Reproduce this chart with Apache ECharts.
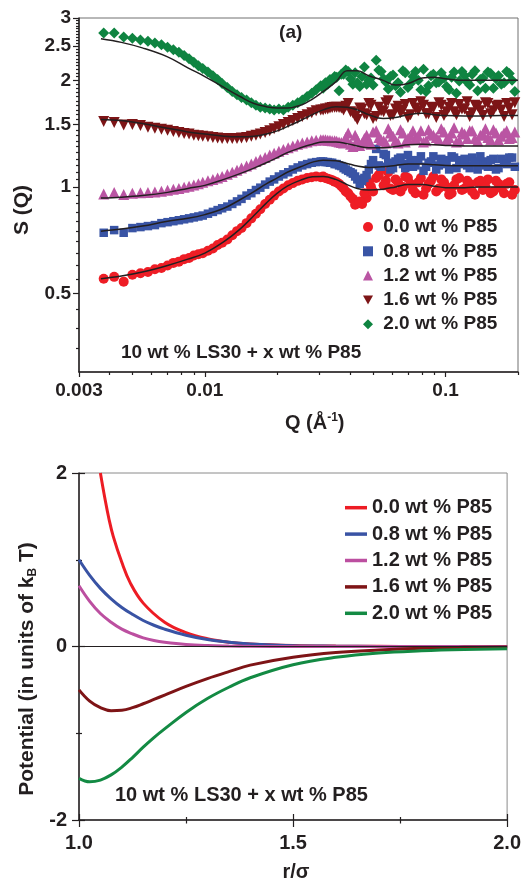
<!DOCTYPE html>
<html>
<head>
<meta charset="utf-8">
<script src="https://cdn.jsdelivr.net/npm/echarts@6/dist/echarts.min.js"></script>
<style>
	html, body { margin: 0; padding: 0; background: #fff; }
	#chart { width: 524px; height: 882px; }
</style>
</head>
<body>
<div id="chart"></div>
<script>
// --- top panel: S(Q) data, Q in 1/A ---
var qData = [0.0038, 0.0042, 0.0046, 0.005, 0.0054, 0.0058, 0.0062, 0.0066, 0.007, 0.0074,
	0.0078, 0.0082, 0.0086, 0.009, 0.0094, 0.0098, 0.0103, 0.0108, 0.0113, 0.0118,
	0.0124, 0.013, 0.0136, 0.0142, 0.0149, 0.0156, 0.0163, 0.017, 0.0178, 0.0186,
	0.0194, 0.0203, 0.0212, 0.0222, 0.0232, 0.0243, 0.0254, 0.0266, 0.0278, 0.029,
	0.0303, 0.0317, 0.0331, 0.0346, 0.0361, 0.0377, 0.0394, 0.0412, 0.043, 0.045,
	0.047, 0.049, 0.0515, 0.054, 0.0565, 0.059, 0.062, 0.065, 0.068, 0.0715,
	0.075, 0.079, 0.083, 0.087, 0.0915, 0.096, 0.101, 0.106, 0.111, 0.117,
	0.123, 0.129, 0.136, 0.143, 0.15, 0.158, 0.166, 0.175, 0.184, 0.194];

var s00 = [0.55, 0.557, 0.54, 0.565, 0.57, 0.575, 0.585, 0.59, 0.60, 0.61,
	0.615, 0.625, 0.63, 0.64, 0.645, 0.65, 0.66, 0.67, 0.685, 0.695,
	0.71, 0.73, 0.75, 0.765, 0.79, 0.815, 0.84, 0.865, 0.895, 0.92,
	0.945, 0.97, 0.99, 1.01, 1.025, 1.04, 1.05, 1.06, 1.065, 1.07,
	1.065, 1.06, 1.05, 1.035, 1.02, 0.99, 0.96, 0.925, 0.90, 0.895,
	0.93, 1.0, 1.06, 1.12, 1.04, 0.99, 1.05, 0.97, 1.07, 1.02,
	0.96, 1.06, 0.99, 1.04, 0.97, 1.05, 1.0, 0.96, 1.05, 0.98,
	1.04, 0.97, 1.03, 0.98, 1.05, 0.97, 1.02, 0.96, 1.03, 0.98];
var s08 = [0.742, 0.755, 0.742, 0.765, 0.77, 0.775, 0.78, 0.79, 0.795, 0.80,
	0.805, 0.81, 0.815, 0.82, 0.825, 0.83, 0.84, 0.85, 0.86, 0.87,
	0.88, 0.895, 0.91, 0.925, 0.945, 0.96, 0.98, 0.995, 1.015, 1.035,
	1.05, 1.07, 1.085, 1.10, 1.12, 1.135, 1.15, 1.16, 1.17, 1.175,
	1.18, 1.175, 1.17, 1.16, 1.15, 1.13, 1.11, 1.09, 1.05, 1.04,
	1.08, 1.16, 1.28, 1.14, 1.23, 1.12, 1.18, 1.21, 1.13, 1.19,
	1.15, 1.22, 1.14, 1.18, 1.12, 1.20, 1.16, 1.22, 1.13, 1.19,
	1.15, 1.21, 1.12, 1.18, 1.14, 1.20, 1.13, 1.17, 1.21, 1.14];
var s12 = [0.955, 0.965, 0.952, 0.96, 0.962, 0.965, 0.968, 0.972, 0.978, 0.985,
	0.99, 0.997, 1.005, 1.012, 1.02, 1.03, 1.04, 1.05, 1.06, 1.07,
	1.085, 1.10, 1.115, 1.13, 1.145, 1.16, 1.18, 1.195, 1.21, 1.23,
	1.245, 1.26, 1.275, 1.29, 1.305, 1.32, 1.33, 1.34, 1.35, 1.355,
	1.36, 1.36, 1.355, 1.35, 1.34, 1.33, 1.42, 1.30, 1.36, 1.33,
	1.40, 1.32, 1.44, 1.36, 1.33, 1.42, 1.35, 1.45, 1.34, 1.40,
	1.37, 1.44, 1.35, 1.41, 1.38, 1.46, 1.36, 1.42, 1.34, 1.43,
	1.37, 1.44, 1.35, 1.41, 1.38, 1.45, 1.36, 1.42, 1.37, 1.43];
var s16 = [1.53, 1.52, 1.495, 1.50, 1.49, 1.475, 1.465, 1.455, 1.445, 1.435,
	1.425, 1.415, 1.41, 1.40, 1.395, 1.39, 1.385, 1.38, 1.375, 1.37,
	1.37, 1.37, 1.37, 1.375, 1.38, 1.39, 1.40, 1.41, 1.425, 1.44,
	1.46, 1.48, 1.50, 1.52, 1.54, 1.56, 1.58, 1.60, 1.62, 1.64,
	1.65, 1.66, 1.67, 1.68, 1.675, 1.65, 1.72, 1.62, 1.55, 1.66,
	1.60, 1.70, 1.58, 1.64, 1.73, 1.59, 1.66, 1.62, 1.71, 1.60,
	1.67, 1.74, 1.61, 1.68, 1.57, 1.70, 1.63, 1.72, 1.60, 1.66,
	1.74, 1.62, 1.69, 1.59, 1.72, 1.64, 1.70, 1.58, 1.67, 1.73];
var s20 = [2.72, 2.72, 2.65, 2.63, 2.60, 2.58, 2.55, 2.52, 2.48, 2.44,
	2.40, 2.35, 2.30, 2.25, 2.20, 2.16, 2.11, 2.06, 2.01, 1.96,
	1.91, 1.86, 1.82, 1.79, 1.76, 1.73, 1.70, 1.68, 1.67, 1.66,
	1.65, 1.66, 1.65, 1.68, 1.70, 1.73, 1.76, 1.80, 1.84, 1.88,
	1.93, 1.97, 2.01, 2.05, 1.87, 2.08, 2.12, 1.95, 1.97, 2.05,
	1.95, 2.03, 2.28, 2.12, 1.98, 2.05, 1.93, 1.85, 2.10, 1.96,
	2.12, 1.88, 1.86, 2.06, 1.97, 2.10, 1.92, 2.04, 1.84, 2.12,
	1.98, 2.08, 1.87, 2.03, 2.11, 1.90, 2.06, 1.97, 2.09, 1.86];

// extra points in the dense high-Q band
var qDataB = [0.031, 0.0324, 0.0338, 0.0353, 0.0369, 0.0385, 0.0403, 0.0421, 0.044, 0.046,
	0.048, 0.050, 0.0528, 0.0553, 0.0578, 0.0605, 0.0635, 0.0665, 0.0698, 0.0732,
	0.077, 0.081, 0.085, 0.089, 0.0938, 0.0985, 0.1035, 0.1085, 0.114, 0.12,
	0.126, 0.1325, 0.1395, 0.1465, 0.154, 0.162, 0.1705, 0.1795, 0.189];
var s00b = [1.07, 1.055, 1.045, 1.03, 1.005, 0.97, 0.94, 0.89, 0.91, 0.96,
	1.03, 0.97, 1.08, 1.01, 1.10, 0.98, 1.03, 1.00, 1.06, 0.98,
	1.03, 0.95, 1.02, 1.07, 0.99, 1.03, 0.95, 1.01, 1.06, 0.99,
	1.02, 0.95, 1.04, 1.0, 0.96, 1.04, 0.99, 1.02, 0.95];
var s08b = [1.18, 1.175, 1.17, 1.16, 1.145, 1.12, 1.10, 1.07, 1.02, 1.06,
	1.12, 1.19, 1.15, 1.24, 1.17, 1.13, 1.20, 1.16, 1.23, 1.14,
	1.19, 1.11, 1.17, 1.22, 1.15, 1.19, 1.12, 1.21, 1.16, 1.20,
	1.13, 1.18, 1.22, 1.15, 1.19, 1.12, 1.20, 1.16, 1.21];
var s12b = [1.36, 1.355, 1.35, 1.345, 1.335, 1.38, 1.32, 1.40, 1.31, 1.37,
	1.34, 1.43, 1.38, 1.35, 1.46, 1.39, 1.33, 1.42, 1.37, 1.44,
	1.39, 1.34, 1.45, 1.40, 1.36, 1.43, 1.38, 1.47, 1.35, 1.41,
	1.44, 1.37, 1.40, 1.46, 1.36, 1.42, 1.39, 1.44, 1.38];
var s16b = [1.65, 1.66, 1.675, 1.68, 1.67, 1.69, 1.63, 1.58, 1.67, 1.61,
	1.72, 1.56, 1.68, 1.63, 1.75, 1.60, 1.69, 1.65, 1.57, 1.72,
	1.64, 1.70, 1.61, 1.67, 1.73, 1.59, 1.68, 1.63, 1.71, 1.66,
	1.58, 1.70, 1.64, 1.73, 1.61, 1.69, 1.65, 1.72, 1.60];
var s20b = [1.90, 1.95, 2.00, 2.04, 2.08, 2.14, 2.02, 2.10, 1.92, 2.18,
	2.00, 1.94, 2.14, 2.02, 1.89, 2.07, 1.97, 2.13, 1.91, 2.05,
	2.00, 2.15, 1.93, 2.08, 1.98, 2.03, 1.88, 2.11, 1.99, 2.06,
	1.94, 2.13, 2.01, 1.90, 2.09, 2.02, 1.95, 2.12, 2.00];

// fitted curves (black lines)
var qFit = [0.0037, 0.0045, 0.0055, 0.007, 0.0085, 0.01, 0.012, 0.014, 0.016, 0.018,
	0.02, 0.022, 0.025, 0.028, 0.031, 0.035, 0.039, 0.043, 0.048, 0.055,
	0.062, 0.07, 0.08, 0.09, 0.1, 0.12, 0.14, 0.17, 0.2];
var f00 = [0.55, 0.56, 0.575, 0.60, 0.625, 0.65, 0.70, 0.76, 0.83, 0.90, 0.96, 1.005, 1.045, 1.068, 1.07,
	1.05, 1.015, 0.99, 0.98, 0.985, 1.0, 1.015, 1.015, 1.005, 0.995, 0.995, 1.0, 1.0, 1.0];
var f08 = [0.75, 0.76, 0.775, 0.80, 0.815, 0.835, 0.87, 0.92, 0.97, 1.02, 1.06, 1.10, 1.14, 1.175, 1.19,
	1.185, 1.165, 1.145, 1.135, 1.14, 1.15, 1.16, 1.16, 1.155, 1.15, 1.148, 1.148, 1.148, 1.148];
var f12 = [0.93, 0.935, 0.945, 0.965, 0.99, 1.01, 1.05, 1.09, 1.13, 1.17, 1.21, 1.25, 1.29, 1.32, 1.34,
	1.34, 1.325, 1.305, 1.29, 1.29, 1.30, 1.315, 1.32, 1.315, 1.31, 1.305, 1.305, 1.305, 1.305];
var f16 = [1.55, 1.54, 1.51, 1.465, 1.43, 1.41, 1.39, 1.385, 1.39, 1.41, 1.44, 1.48, 1.54, 1.60, 1.65,
	1.685, 1.68, 1.65, 1.60, 1.56, 1.57, 1.60, 1.615, 1.60, 1.59, 1.585, 1.585, 1.59, 1.59];
var f20 = [2.62, 2.56, 2.47, 2.33, 2.17, 2.05, 1.91, 1.80, 1.72, 1.685, 1.67, 1.67, 1.70, 1.77, 1.86,
	1.98, 2.13, 2.13, 2.06, 2.00, 1.94, 1.96, 2.03, 2.04, 2.02, 2.0, 2.0, 2.0, 2.0];

// log axis ticks
var qMajor = [0.003, 0.01, 0.1];
var qMinor = [0.004, 0.005, 0.006, 0.007, 0.008, 0.009, 0.02, 0.03, 0.04, 0.05, 0.06, 0.07, 0.08, 0.09, 0.2];
var sMajor = [0.5, 1, 1.5, 2, 2.5, 3];
var sMinor = [0.35, 0.4, 0.45, 0.55, 0.6, 0.65, 0.7, 0.75, 0.8, 0.85, 0.9, 0.95,
	1.05, 1.1, 1.15, 1.2, 1.25, 1.3, 1.35, 1.4, 1.45, 1.55, 1.6, 1.65, 1.7, 1.75, 1.8, 1.85, 1.9, 1.95,
	2.05, 2.1, 2.15, 2.2, 2.25, 2.3, 2.35, 2.4, 2.45, 2.55, 2.6, 2.65, 2.7, 2.75, 2.8, 2.85, 2.9, 2.95];

// --- bottom panel: potential vs r/sigma ---
var rRed = [1.05, 1.06, 1.07, 1.08, 1.1, 1.12, 1.15, 1.2, 1.25, 1.3, 1.35, 1.4, 1.5, 1.6, 1.7, 1.8, 1.9, 2.0];
var rAll = [1.0, 1.025, 1.05, 1.075, 1.1, 1.125, 1.15, 1.175, 1.2, 1.25, 1.3, 1.35, 1.4, 1.5, 1.6, 1.7, 1.8, 1.9, 2.0];
var u00 = [2.0, 1.72, 1.47, 1.27, 0.97, 0.73, 0.50, 0.28, 0.16, 0.09, 0.05, 0.03, 0.012, 0.005, 0.002, 0.001, 0, 0];
var u08 = [1.0, 0.82, 0.67, 0.55, 0.45, 0.37, 0.30, 0.245, 0.20, 0.13, 0.08, 0.05, 0.03, 0.01, 0.004, 0.001, 0, 0, 0];
var u12 = [0.70, 0.52, 0.38, 0.28, 0.20, 0.145, 0.10, 0.07, 0.05, 0.024, 0.011, 0.005, 0.002, 0, 0, 0, 0, 0, 0];
var u16 = [-0.50, -0.63, -0.705, -0.74, -0.735, -0.705, -0.66, -0.61, -0.56, -0.46, -0.37, -0.29, -0.215, -0.125,
	-0.07, -0.04, -0.02, -0.01, -0.005];
var u20 = [-1.52, -1.56, -1.54, -1.48, -1.39, -1.28, -1.16, -1.05, -0.95, -0.76, -0.60, -0.47, -0.36, -0.21,
	-0.125, -0.075, -0.05, -0.035, -0.027];

var names = ['0.0 wt % P85', '0.8 wt % P85', '1.2 wt % P85', '1.6 wt % P85', '2.0 wt % P85'];
var dotColors = ['#ee1d25', '#3954a5', '#ba55a3', '#7d1517', '#0f8441'];
var lineColors = ['#ed1c24', '#3953a4', '#bc4fa0', '#7e1416', '#138a43'];

var FONT = '"Liberation Sans", Arial, sans-serif';
var INK = '#231f20';

function lg(v) { return Math.log10(v); }
function logPairs(xs, ys) {
	return xs.map(function (x, i) { return [lg(x), lg(ys[i])]; });
}
function pairs(xs, ys) {
	return xs.map(function (x, i) { return [x, ys[i]]; });
}
function logLabel(v) { return String(+Math.pow(10, v).toPrecision(2)); }

var chart = echarts.init(document.getElementById('chart'), null, { renderer: 'canvas' });

var series = [];
var sets = [[s00, s00b], [s08, s08b], [s12, s12b], [s16, s16b], [s20, s20b]];
var symbols = ['circle', 'rect', 'triangle', 'path://M0,0L10,0L5,9Z', 'diamond'];
var sizes = [10, 8.5, 11, 11, 11];
sets.forEach(function (s, i) {
	series.push({
		name: names[i], type: 'scatter', xAxisIndex: 0, yAxisIndex: 0,
		symbol: symbols[i], symbolSize: sizes[i],
		itemStyle: { color: dotColors[i], opacity: 1 },
		data: logPairs(qData, s[0]).concat(logPairs(qDataB, s[1])), z: 2
	});
});
[f00, f08, f12, f16, f20].forEach(function (f, i) {
	series.push({
		name: 'fit' + i, type: 'line', xAxisIndex: 0, yAxisIndex: 0,
		smooth: 0.4, symbol: 'none',
		lineStyle: { color: INK, width: 1.5 },
		data: logPairs(qFit, f), z: 4
	});
});
var pots = [[rRed, u00], [rAll, u08], [rAll, u12], [rAll, u16], [rAll, u20]];
pots.forEach(function (p, i) {
	var s = {
		name: names[i] + ' ', type: 'line', xAxisIndex: 2, yAxisIndex: 2,
		smooth: 0.4, symbol: 'none',
		lineStyle: { color: lineColors[i], width: 3 },
		itemStyle: { color: lineColors[i] },
		data: pairs(p[0], p[1]), z: 3
	};
	if (i === 0) {
		s.z = 2;
		s.markLine = {
			silent: true, symbol: 'none', label: { show: false },
			lineStyle: { color: INK, width: 1, type: 'solid' },
			data: [{ yAxis: 0 }]
		};
	}
	series.push(s);
});

var tickStyle = { color: INK, width: 1.2 };
var labelStyle = { color: INK, fontWeight: 'bold', fontFamily: FONT };
var mainLine = { onZero: false, lineStyle: { color: INK, width: 1.5 } };
var noLine = { show: false, onZero: false };

var option = {
	animation: false,
	backgroundColor: '#fff',
	grid: [
		{ left: 79, top: 18, width: 439, height: 354, show: true, borderColor: '#707070', borderWidth: 1 },
		{ left: 79, top: 473, width: 431, height: 347, show: true, borderColor: '#8a8a8a', borderWidth: 1 }
	],
	xAxis: [
		{
			gridIndex: 0, type: 'value', position: 'bottom', min: lg(0.003), max: lg(0.2),
			axisLine: mainLine,
			axisTick: { customValues: qMajor.map(lg), length: 5, lineStyle: tickStyle },
			axisLabel: Object.assign({ customValues: qMajor.map(lg), formatter: logLabel, fontSize: 19, margin: 9 }, labelStyle),
			splitLine: { show: false }
		},
		{
			gridIndex: 0, type: 'value', position: 'bottom', min: lg(0.003), max: lg(0.2),
			axisLine: noLine,
			axisTick: { customValues: qMinor.map(lg), length: 3, lineStyle: tickStyle },
			axisLabel: { show: false }, splitLine: { show: false }
		},
		{
			gridIndex: 1, type: 'value', position: 'bottom', min: 1, max: 2, interval: 0.5,
			axisLine: mainLine,
			axisTick: { length: 7, lineStyle: tickStyle },
			minorTick: { show: true, splitNumber: 2, length: 3.5, lineStyle: tickStyle },
			axisLabel: Object.assign({ fontSize: 20, margin: 13, formatter: function (v) { return v.toFixed(1); } }, labelStyle),
			splitLine: { show: false }
		},
		{
			gridIndex: 1, type: 'value', position: 'bottom', min: 1, max: 2, interval: 0.5,
			axisLine: noLine,
			axisTick: { inside: true, length: 6, lineStyle: tickStyle },
			minorTick: { show: true, splitNumber: 2, length: 3, lineStyle: tickStyle },
			axisLabel: { show: false }, splitLine: { show: false }
		}
	],
	yAxis: [
		{
			gridIndex: 0, type: 'value', position: 'left', min: lg(0.3), max: lg(3),
			axisLine: mainLine,
			axisTick: { customValues: sMajor.map(lg), length: 6, lineStyle: tickStyle },
			axisLabel: Object.assign({ customValues: sMajor.map(lg), formatter: logLabel, fontSize: 19, margin: 8 }, labelStyle),
			splitLine: { show: false }
		},
		{
			gridIndex: 0, type: 'value', position: 'left', min: lg(0.3), max: lg(3),
			axisLine: noLine,
			axisTick: { customValues: sMinor.map(lg), length: 3, lineStyle: tickStyle },
			axisLabel: { show: false }, splitLine: { show: false }
		},
		{
			gridIndex: 1, type: 'value', position: 'left', min: -2, max: 2, interval: 2,
			axisLine: mainLine,
			axisTick: { length: 7, lineStyle: tickStyle },
			minorTick: { show: true, splitNumber: 2, length: 3, lineStyle: tickStyle },
			axisLabel: Object.assign({ fontSize: 20, margin: 12 }, labelStyle),
			splitLine: { show: false }
		},
		{
			gridIndex: 1, type: 'value', position: 'left', min: -2, max: 2, interval: 2,
			axisLine: noLine,
			axisTick: { inside: true, length: 6, lineStyle: tickStyle },
			minorTick: { show: true, splitNumber: 2, length: 3, lineStyle: tickStyle },
			axisLabel: { show: false }, splitLine: { show: false }
		}
	],
	legend: [
		{
			data: names, orient: 'vertical', left: 363, top: 217, padding: 0,
			itemWidth: 10, itemHeight: 10, itemGap: 4.3,
			formatter: function (n) { return ' ' + n; },
			textStyle: { fontSize: 19, lineHeight: 20, fontWeight: 'bold', fontFamily: FONT, color: INK },
			selectedMode: false
		},
		{
			data: names.map(function (n) { return n + ' '; }), orient: 'vertical', left: 345, top: 497.7, padding: 0,
			icon: 'rect', itemWidth: 22, itemHeight: 3.5, itemGap: 6.4,
			textStyle: { fontSize: 20, lineHeight: 20, fontWeight: 'bold', fontFamily: FONT, color: INK },
			selectedMode: false
		}
	],
	graphic: [
		{ type: 'text', x: 290.7, y: 32.5, style: { text: '(a)', font: 'bold 19px ' + FONT, fill: INK, align: 'center', verticalAlign: 'middle' } },
		{ type: 'text', x: 121, y: 353, style: { text: '10 wt % LS30 + x wt % P85', font: 'bold 19px ' + FONT, fill: INK, align: 'left', verticalAlign: 'middle' } },
		{ type: 'text', x: 115, y: 795, style: { text: '10 wt % LS30 + x wt % P85', font: 'bold 20px ' + FONT, fill: INK, align: 'left', verticalAlign: 'middle' } },
		{ type: 'text', x: 22, y: 210, rotation: Math.PI / 2, style: { text: 'S (Q)', font: 'bold 21px ' + FONT, fill: INK, align: 'center', verticalAlign: 'middle' } },
		{
			type: 'text', x: 314.7, y: 423,
			style: {
				text: '{a|Q (Å}{s|-1}{a|)}', fill: INK, align: 'center', verticalAlign: 'middle',
				rich: {
					a: { fontSize: 20, fontWeight: 'bold', fontFamily: FONT, fill: INK, lineHeight: 22 },
					s: { fontSize: 12, fontWeight: 'bold', fontFamily: FONT, fill: INK, verticalAlign: 'top' }
				}
			}
		},
		{ type: 'text', x: 296, y: 872, style: { text: 'r/σ', font: 'bold 20px ' + FONT, fill: INK, align: 'center', verticalAlign: 'middle' } },
		{
			type: 'text', x: 27, y: 669, rotation: Math.PI / 2,
			style: {
				text: '{a|Potential (in units of k}{b|B}{a| T)}', fill: INK, align: 'center', verticalAlign: 'middle',
				rich: {
					a: { fontSize: 21, fontWeight: 'bold', fontFamily: FONT, fill: INK, lineHeight: 24 },
					b: { fontSize: 12, fontWeight: 'bold', fontFamily: FONT, fill: INK, verticalAlign: 'bottom' }
				}
			}
		}
	],
	series: series
};

chart.setOption(option);
</script>
</body>
</html>
